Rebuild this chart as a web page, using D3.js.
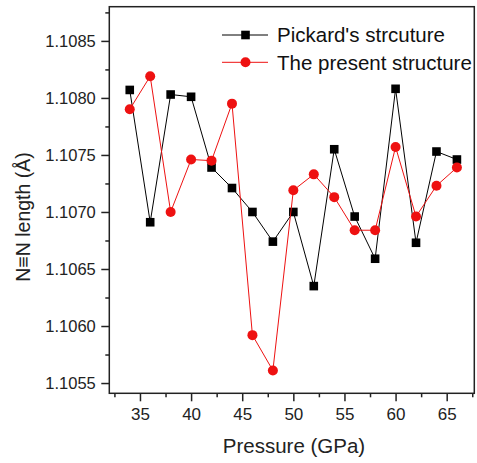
<!DOCTYPE html>
<html>
<head>
<meta charset="utf-8">
<script src="https://cdn.jsdelivr.net/npm/d3@7"></script>
<style>
  html, body { margin: 0; padding: 0; background: #fff; }
  svg { display: block; font-family: "Liberation Sans", Arial, sans-serif; }
</style>
</head>
<body>
<svg id="chart" width="477" height="463"></svg>
<script>
const pressure = [34, 36, 38, 40, 42, 44, 46, 48, 50, 52, 54, 56, 58, 60, 62, 64, 66];
const pickard = [1.10807, 1.10691, 1.10803, 1.10801, 1.10739, 1.10721, 1.10700, 1.10674, 1.10700,
                 1.10635, 1.10755, 1.10696, 1.10659, 1.10808, 1.10673, 1.10753, 1.10746];
const present = [1.10790, 1.10819, 1.10700, 1.10746, 1.10745, 1.10795, 1.10592, 1.10561, 1.10719,
                 1.10733, 1.10713, 1.10684, 1.10684, 1.10757, 1.10696, 1.10723, 1.10739];
const seriesNames = ["Pickard's strcuture", "The present structure"];
const xMajorTicks = [35, 40, 45, 50, 55, 60, 65];
const xMinorTicks = [32.5, 37.5, 42.5, 47.5, 52.5, 57.5, 62.5, 67.5];
const yMajorTicks = [1.1055, 1.1060, 1.1065, 1.1070, 1.1075, 1.1080, 1.1085];
const yMinorTicks = [1.10575, 1.10625, 1.10675, 1.10725, 1.10775, 1.10825, 1.10875];
const xTitle = "Pressure (GPa)";
const yTitle = "N\u2261N length (\u00C5)";

const svg = d3.select("#chart");
const L = 109.3, R = 474.3, T = 6.7, B = 393.3;
const x = d3.scaleLinear().domain([32, 67.7]).range([L, R]);
const y = d3.scaleLinear().domain([1.10541, 1.10880]).range([B, T]);
const ink = "#222";

// frame
svg.append("rect").attr("x", L).attr("y", T).attr("width", R - L).attr("height", B - T)
  .attr("fill", "none").attr("stroke", ink).attr("stroke-width", 1.5);

// x axis
const gx = svg.append("g").attr("transform", `translate(0,${B})`);
gx.call(d3.axisBottom(x).tickValues(xMajorTicks).tickFormat(d3.format("d")).tickSize(8).tickPadding(7).tickSizeOuter(0))
  .call(g => g.select(".domain").remove());
gx.selectAll(".tick line").attr("stroke", ink).attr("stroke-width", 1.5);
gx.selectAll(".tick text").attr("fill", "#222").style("font-size", "17px").style("font-family", "'Liberation Sans', Arial, sans-serif");
const gxm = svg.append("g").attr("transform", `translate(0,${B})`);
gxm.call(d3.axisBottom(x).tickValues(xMinorTicks).tickFormat("").tickSize(4).tickSizeOuter(0))
  .call(g => g.select(".domain").remove());
gxm.selectAll(".tick line").attr("stroke", ink).attr("stroke-width", 1.5);

// y axis
const gy = svg.append("g").attr("transform", `translate(${L},0)`);
gy.call(d3.axisLeft(y).tickValues(yMajorTicks).tickFormat(d3.format(".4f")).tickSize(8).tickPadding(5.5).tickSizeOuter(0))
  .call(g => g.select(".domain").remove());
gy.selectAll(".tick line").attr("stroke", ink).attr("stroke-width", 1.5);
gy.selectAll(".tick text").attr("fill", "#222").style("font-size", "16.5px").style("font-family", "'Liberation Sans', Arial, sans-serif");
const gym = svg.append("g").attr("transform", `translate(${L},0)`);
gym.call(d3.axisLeft(y).tickValues(yMinorTicks).tickFormat("").tickSize(4).tickSizeOuter(0))
  .call(g => g.select(".domain").remove());
gym.selectAll(".tick line").attr("stroke", ink).attr("stroke-width", 1.5);

// titles
svg.append("text").attr("x", 294).attr("y", 452.7).attr("text-anchor", "middle")
  .attr("fill", "#222").style("font-size", "20.5px").text(xTitle);
svg.append("text").attr("transform", "translate(30,217) rotate(-90)").attr("text-anchor", "middle")
  .attr("fill", "#222").style("font-size", "19.5px").text(yTitle);

// series
const black = "#000", red = "#ee1111";
const line = d3.line().x(d => x(d[0])).y(d => y(d[1]));
const pk = pressure.map((p, i) => [p, pickard[i]]);
const pr = pressure.map((p, i) => [p, present[i]]);

svg.append("path").datum(pk).attr("d", line).attr("fill", "none").attr("stroke", black).attr("stroke-width", 1);
svg.append("g").selectAll("rect").data(pk).join("rect")
  .attr("x", d => x(d[0]) - 4.3).attr("y", d => y(d[1]) - 4.3)
  .attr("width", 8.6).attr("height", 8.6).attr("fill", black);

svg.append("path").datum(pr).attr("d", line).attr("fill", "none").attr("stroke", red).attr("stroke-width", 1);
svg.append("g").selectAll("circle").data(pr).join("circle")
  .attr("cx", d => x(d[0])).attr("cy", d => y(d[1])).attr("r", 5).attr("fill", red);

// legend
const leg = svg.append("g");
const legRows = [{name: seriesNames[0], color: black, shape: "square", y: 35},
                 {name: seriesNames[1], color: red, shape: "circle", y: 62.3}];
legRows.forEach(r => {
  leg.append("line").attr("x1", 222).attr("x2", 268).attr("y1", r.y).attr("y2", r.y)
    .attr("stroke", r.color).attr("stroke-width", 1);
  if (r.shape === "square") {
    leg.append("rect").attr("x", 245.5 - 4.3).attr("y", r.y - 4.3).attr("width", 8.6).attr("height", 8.6).attr("fill", r.color);
  } else {
    leg.append("circle").attr("cx", 245.5).attr("cy", r.y).attr("r", 5).attr("fill", r.color);
  }
  leg.append("text").attr("x", 277).attr("y", r.y).attr("dy", "0.36em")
    .attr("fill", "#111").style("font-size", "20.5px").text(r.name);
});
</script>
</body>
</html>
